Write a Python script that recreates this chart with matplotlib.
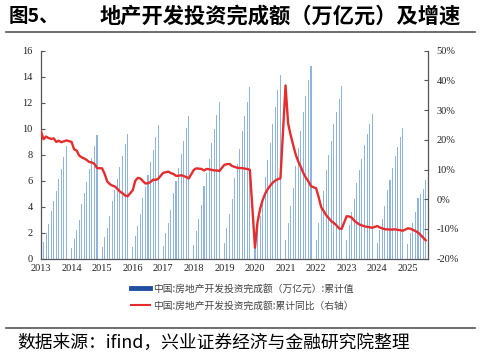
import matplotlib
matplotlib.use("Agg")
import matplotlib.pyplot as plt
from matplotlib.lines import Line2D
import numpy as np

plt.rcParams['font.family'] = ['Noto Sans CJK SC', 'DejaVu Sans']

YEARS = list(range(2013, 2026))

# cumulative investment, trillion yuan, Jan-Feb .. Dec (11 values per year)
INVEST = {
    2013: [0.65, 1.31, 1.95, 2.69, 3.69, 4.43, 5.23, 6.13, 6.90, 7.80, 8.67],
    2014: [0.80, 1.52, 2.23, 2.98, 4.20, 5.03, 5.90, 6.88, 7.77, 8.67, 9.54],
    2015: [0.87, 1.69, 2.38, 3.26, 4.41, 5.26, 6.13, 7.08, 7.90, 8.80, 9.60],
    2016: [0.87, 1.77, 2.54, 3.46, 4.67, 5.54, 6.46, 7.46, 8.38, 9.34, 10.26],
    2017: [1.00, 1.95, 2.77, 3.75, 5.08, 5.98, 6.95, 8.08, 9.08, 10.03, 10.98],
    2018: [1.05, 2.13, 3.05, 4.15, 5.57, 6.62, 7.67, 8.90, 9.95, 11.03, 12.05],
    2019: [1.23, 2.34, 3.44, 4.62, 6.18, 7.26, 8.46, 9.82, 10.98, 12.08, 13.23],
    2020: [1.01, 2.19, 3.32, 4.59, 6.28, 7.57, 8.87, 10.36, 11.70, 12.98, 14.14],
    2021: [1.44, 2.77, 4.08, 5.46, 7.15, 8.54, 9.85, 11.31, 12.54, 13.75, 14.80],
    2022: [1.45, 2.77, 3.94, 5.20, 6.83, 7.99, 9.03, 10.33, 11.30, 12.30, 13.29],
    2023: [1.40, 2.59, 3.56, 4.58, 5.86, 6.80, 7.69, 8.72, 9.56, 10.38, 11.10],
    2024: [1.18, 2.21, 3.03, 4.06, 5.25, 6.09, 6.97, 7.87, 8.63, 9.36, 10.03],
    2025: [1.10, 2.00, 2.72, 3.60, 4.65, 5.00, 5.34, 6.05],
}

# cumulative YoY growth, %
GROWTH = {
    2013: [22.8, 20.2, 21.1, 20.6, 20.3, 20.5, 19.3, 19.7, 19.2, 19.5, 19.8],
    2014: [19.3, 16.8, 16.4, 14.7, 14.1, 13.7, 13.2, 12.5, 12.4, 11.9, 10.5],
    2015: [10.4, 8.5, 6.0, 5.1, 4.6, 4.3, 3.5, 2.6, 2.0, 1.3, 1.0],
    2016: [3.0, 6.2, 7.2, 7.0, 6.1, 5.3, 5.4, 5.8, 6.6, 6.5, 6.9],
    2017: [8.9, 9.1, 9.3, 8.8, 8.5, 7.9, 7.9, 8.1, 7.8, 7.5, 7.0],
    2018: [9.9, 10.4, 10.3, 10.2, 9.7, 10.2, 10.1, 9.9, 9.7, 9.7, 9.5],
    2019: [11.6, 11.8, 11.9, 11.2, 10.9, 10.6, 10.5, 10.5, 10.3, 10.2, 9.9],
    2020: [-16.3, -7.7, -3.3, -0.3, 1.9, 3.4, 4.6, 5.6, 6.3, 6.8, 7.0],
    2021: [38.3, 25.6, 21.6, 18.3, 15.0, 12.7, 10.9, 8.8, 7.2, 6.0, 4.4],
    2022: [3.7, 0.7, -2.7, -4.0, -5.4, -6.4, -7.4, -8.0, -8.8, -9.8, -10.0],
    2023: [-5.7, -5.8, -6.2, -7.2, -7.9, -8.5, -8.8, -9.1, -9.3, -9.4, -9.6],
    2024: [-9.0, -9.5, -9.8, -10.1, -10.1, -10.2, -10.2, -10.1, -10.3, -10.4, -10.6],
    2025: [-9.8, -9.9, -10.3, -10.7, -11.2, -12.0, -12.9, -13.8],
}

TITLE_NO = "图5、"
TITLE = "地产开发投资完成额（万亿元）及增速"
SOURCE = "数据来源：ifind，兴业证券经济与金融研究院整理"
LABEL_BAR = "中国:房地产开发投资完成额（万亿元）:累计值"
LABEL_LINE = "中国:房地产开发投资完成额:累计同比（右轴）"


def series(d):
    xs, ys = [], []
    for y in YEARS:
        for i, v in enumerate(d[y]):
            xs.append(y + i / 12)
            ys.append(v)
    return np.array(xs), np.array(ys)


fig = plt.figure(figsize=(4.81, 3.58), dpi=100)
ax = fig.add_axes([0.0852, 0.2774, 0.8046, 0.581])

bx, by = series(INVEST)
ax.bar(bx, by, width=0.035, color="#8fb4de", linewidth=0, zorder=2)
ax.set_xlim(2013, 2025.66)
ax.set_ylim(0, 16)
ax.set_yticks(range(0, 17, 2))
ax.set_xticks(YEARS)

ax2 = ax.twinx()
gx, gy = series(GROWTH)
ax2.plot(gx, gy, color="#e52d2d", lw=1.7, zorder=3, solid_joinstyle="round")
ax2.set_ylim(-20, 50)
ax2.set_yticks(range(-20, 51, 10))
ax2.set_yticklabels([f"{v}%" for v in range(-20, 51, 10)])

serif = ["Liberation Serif", "DejaVu Serif"]
for a in (ax, ax2):
    a.spines["top"].set_visible(False)
    for s in a.spines.values():
        s.set_color("#555555")
        s.set_linewidth(0.9)
    for lab in a.get_yticklabels() + a.get_xticklabels():
        lab.set_family(serif)
        lab.set_fontsize(7.5)
        lab.set_color("#222222")
ax.tick_params(axis="y", direction="in", length=3, color="#555555", pad=6)
ax.tick_params(axis="x", length=0, pad=4)
ax2.tick_params(axis="y", direction="in", length=3, color="#555555", pad=6)
ax.spines["right"].set_visible(False)
ax2.spines["left"].set_visible(False)
ax2.spines["bottom"].set_visible(False)

handles = [Line2D([], [], color="#1f4f9e", lw=3.5),
           Line2D([], [], color="#e52d2d", lw=1.5)]
fig.legend(handles, [LABEL_BAR, LABEL_LINE], loc="upper left",
           bbox_to_anchor=(0.262, 0.222), frameon=False, fontsize=7,
           handlelength=2.0, handletextpad=0.3, labelspacing=0.75,
           labelcolor="#444444", borderpad=0)

fig.text(0.017, 0.955, TITLE_NO, fontsize=14, fontweight="bold", va="center", ha="left")
fig.text(0.207, 0.955, TITLE, fontsize=15.3, fontweight="bold", va="center", ha="left")
fig.add_artist(Line2D([0.012, 0.988], [0.911, 0.911], color="#555555", lw=1.2))
fig.add_artist(Line2D([0.012, 0.988], [0.085, 0.085], color="#555555", lw=1.2))
fig.text(0.035, 0.042, SOURCE, fontsize=12.8, va="center", ha="left")

fig.savefig("out.png", dpi=100)
